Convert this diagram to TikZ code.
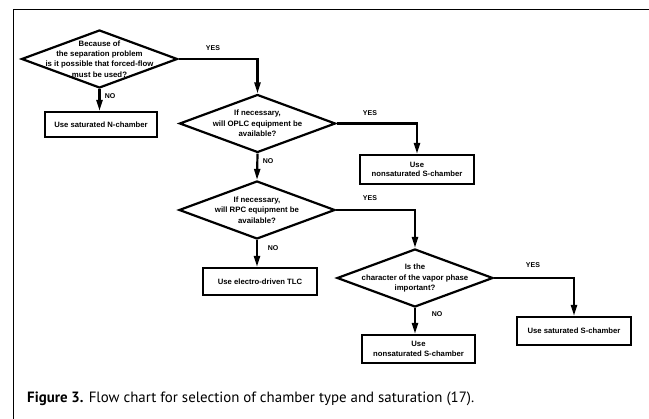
\documentclass[tikz,border=0pt]{standalone}
\usepackage{fontspec}
\setmainfont{Liberation Sans}
\newfontfamily\capfont{PT Sans}
\usetikzlibrary{shapes.geometric,arrows.meta}
\begin{document}
\begin{tikzpicture}[x=1pt,y=1pt,
  dec/.style={draw,line width=2.2pt,diamond,minimum width=156pt,minimum height=58pt,inner sep=0pt},
  dtext/.style={font=\fontsize{7.8}{10.3}\selectfont\bfseries,align=center,inner sep=0pt},
  res/.style={draw,line width=2.2pt,rectangle,minimum width=113pt,inner sep=0pt,font=\fontsize{7.7}{9.5}\selectfont\bfseries,align=center},
  lab/.style={font=\fontsize{7}{8}\selectfont\bfseries,inner sep=0pt},
  conn/.style={line width=2.2pt,-{Triangle[length=11pt,width=6pt]}}]
\useasboundingbox (0,0) rectangle (649,-419);
\draw[line width=1pt] (649,-10) -- (13,-10) -- (13,-419);

\node[dec] (d1) at (99.5,-59) {};
\node[dtext] (d1t) at (d1) {Because of\\the separation problem\\is it possible that forced-flow\\must be used?};
\node[dec] (d2) at (257.5,-123.5) {};
\node[dtext] (d2t) at (d2) {If necessary,\\will OPLC equipment be\\available?};
\node[dec] (d3) at (257,-210) {};
\node[dtext] (d3t) at (d3) {If necessary,\\will RPC equipment be\\available?};
\node[dec] (d4) at (415,-278) {};
\node[dtext] (d4t) at (d4) {Is the\\character of the vapor phase\\important?};

\node[res,minimum width=112pt,minimum height=25pt] (b1) at (101,-124.5) {Use saturated N-chamber};
\node[res,minimum width=114pt,minimum height=29pt] (b2) at (417,-169.5) {Use\\nonsaturated S-chamber};
\node[res,minimum width=114pt,minimum height=27pt] (b3) at (260,-281.5) {Use electro-driven TLC};
\node[res,minimum width=113pt,minimum height=28pt] (b4) at (418.5,-349) {Use\\nonsaturated S-chamber};
\node[res,minimum width=114pt,minimum height=28pt] (b5) at (574,-331) {Use saturated S-chamber};

\draw[conn] (d1.south) -- (d1.south |- b1.north);
\draw[conn] (d1.east) -| (d2.north);
\draw[conn] (d2.east) -| (b2.north);
\draw[conn] (d2.south) -- (d3.north);
\draw[conn] (d3.south) -- (d3.south |- b3.north);
\draw[conn] (d3.east) -| (d4.north);
\draw[conn] (d4.south) -- (d4.south |- b4.north);
\draw[conn] (d4.east) -| (b5.north);

\node[lab] (y1) at (213,-48) {YES};
\node[lab] (n1) at (110,-96) {NO};
\node[lab] (y2) at (370,-113) {YES};
\node[lab] (n2) at (268,-161) {NO};
\node[lab] (y3) at (370,-198) {YES};
\node[lab] (n3) at (273,-248) {NO};
\node[lab] (y4) at (533,-265) {YES};
\node[lab] (n4) at (437,-314) {NO};

\node[anchor=base west,inner sep=0pt,font=\capfont\fontsize{14.9}{16}\selectfont] (cap) at (27,-403)
  {\textbf{Figure 3.} Flow chart for selection of chamber type and saturation (17).};
\end{tikzpicture}
\end{document}
